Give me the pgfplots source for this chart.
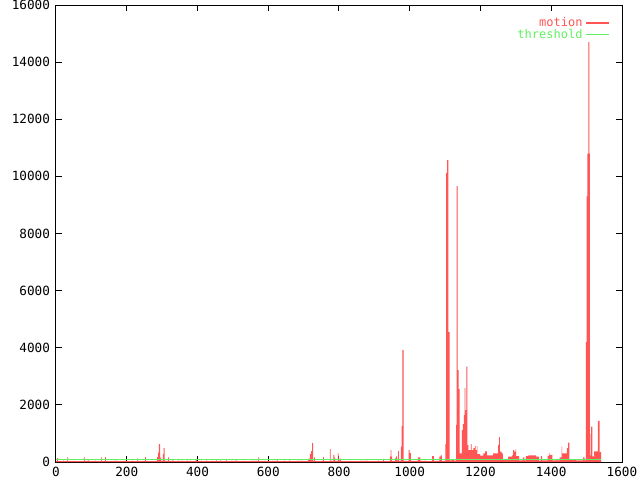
\documentclass[border=0pt]{standalone}
\usepackage{fontspec}
\setmonofont{DejaVu Sans Mono}
\usepackage{pgfplots}
\pgfplotsset{compat=1.18}
\definecolor{mred}{RGB}{255,85,85}
\definecolor{mgreen}{RGB}{96,240,96}
\begin{document}
\begin{tikzpicture}
\path[use as bounding box] (-42pt,-13.5pt) rectangle (438pt,346.5pt);
\begin{axis}[
  at={(0,0)}, anchor=south west,
  scale only axis, width=424.5pt, height=342.75pt,
  xmin=0, xmax=1600, ymin=0, ymax=16000,
  xtick={0,200,...,1600}, ytick={0,2000,...,16000},
  scaled y ticks=false, scaled x ticks=false,
  tick align=inside, major tick length=4.5pt,
  axis line style={line width=0.75pt},
  every tick/.style={black, line width=0.75pt},
  /pgf/number format/assume math mode=true,
  /pgf/number format/1000 sep={},
  ticklabel style={font=\fontsize{9.5}{11}\ttfamily},
  yticklabel style={xshift=-1pt},
  legend style={draw=none, fill=none, at={(0.985,0.985)}, anchor=north east,
    font=\fontsize{9}{11}\ttfamily, row sep=-3.5pt},
  legend cell align=right,
  legend plot pos=right,
]
\addlegendimage{draw=mred, line width=1pt}
\addlegendentry{\textcolor{mred}{motion}}
\addlegendimage{draw=mgreen, line width=1pt}
\addlegendentry{\textcolor{mgreen}{threshold}}
\addplot[const plot mark left, draw=none, fill=mred, forget plot] coordinates {
(0,40) (3,140) (6,30) (20,50) (22,30) (32,170) (34,30) (50,50) (52,30)
(79,170) (81,40) (90,60) (93,30) (110,50) (112,30) (128,170) (130,30)
(139,170) (141,30) (160,40) (170,50) (172,30) (190,40) (200,30) (215,50) (217,30)
(230,130) (232,30) (252,170) (254,30)
(286,170) (289,330) (291,630) (294,150) (297,40) (302,280) (304,490) (307,40)
(317,160) (319,40) (330,80) (332,30) (345,60) (347,30) (355,50) (357,30)
(370,60) (372,30) (380,50) (382,30) (395,70) (398,30) (410,50) (412,30)
(425,60) (427,30) (440,50) (442,30) (452,70) (454,30) (465,60) (467,30)
(480,70) (482,30) (495,40) (510,60) (512,30) (530,50) (532,30) (550,40)
(572,170) (574,30) (590,50) (592,30) (610,40) (625,60) (627,30) (645,50) (647,30)
(660,60) (662,30) (680,40) (695,50) (697,30)
(712,100) (715,120) (718,280) (721,380) (724,660) (727,40) (730,160) (732,30)
(755,170) (757,30) (774,450) (776,40) (784,250) (787,150) (789,40)
(797,300) (799,60) (803,120) (805,30) (830,50) (832,30) (860,40) (880,50) (882,30)
(910,60) (912,30) (925,80) (927,30) (944,190) (946,420) (948,190) (950,30)
(958,130) (961,200) (964,60) (967,380) (969,40) (975,540) (977,1260) (979.5,3920)
(982.5,40) (997,420) (1000,310) (1003,40) (1023,160) (1030,40) (1045,50) (1047,30)
(1063,210) (1068,40) (1084,190) (1087,230) (1091,40)
(1101,630) (1103,10120) (1106,10570) (1109,4550) (1113,60) (1120,100) (1125,50)
(1131,1300) (1132.5,9660) (1135,3220) (1138,2550) (1141,300) (1147,1120)
(1150,1330) (1153,1640) (1155,2590) (1157,1820) (1160,3340) (1163,590)
(1166,420) (1170,420) (1173,630) (1175,420) (1180,490) (1184,560) (1186,420)
(1190,560) (1191,280) (1199,220) (1208,300) (1213,370) (1218,230) (1236,300)
(1250,600) (1253,870) (1255,360) (1260,300) (1263,90) (1266,70) (1278,190)
(1289,230) (1292,420) (1295,360) (1299,440) (1301,210) (1309,60) (1320,160)
(1324,60) (1328,210) (1335,230) (1357,190) (1365,50) (1371,210) (1374,60)
(1390,210) (1393,330) (1395,250) (1403,60) (1415,80) (1418,60) (1424,160)
(1429,540) (1431,300) (1444,490) (1448,680) (1451,100) (1458,70) (1470,60)
(1490,160) (1494,60) (1498,4200) (1500,9300) (1502,10800) (1505,14700)
(1508,10800) (1509.5,230) (1511,980) (1513,1240) (1516,200) (1521,370)
(1532,1440) (1537,350) (1541,0)
} \closedcycle;
\addplot[mgreen, line width=0.75pt, forget plot] coordinates {(0,100) (1541,100)};
\end{axis}
\end{tikzpicture}
\end{document}
